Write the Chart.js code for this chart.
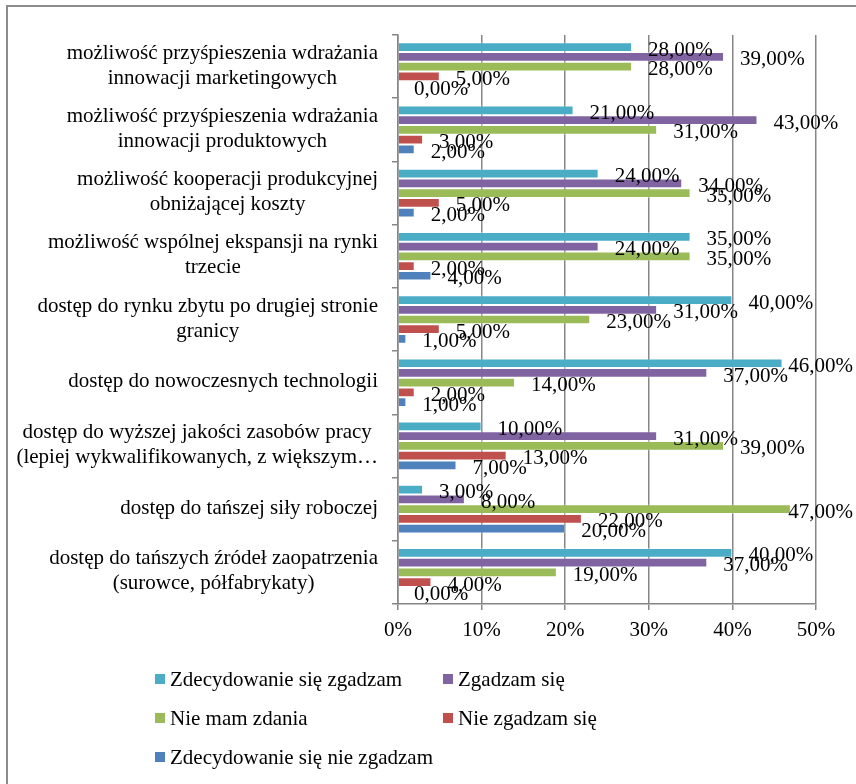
<!DOCTYPE html>
<html>
<head>
<meta charset="utf-8">
<script src="https://cdn.jsdelivr.net/npm/chart.js@4.4.1/dist/chart.umd.min.js"></script>
<style>
    body { margin: 0; background: #fff; }
    .wrap { position: relative; width: 856px; height: 784px; overflow: hidden; }
    .frame { position: absolute; left: 6px; top: 5px; width: 900px; height: 900px; border-left: 2px solid #8c8c8c; border-top: 2px solid #8c8c8c; }
    canvas { position: absolute; left: 0; top: 0; }
    .legend { position: absolute; left: 0; top: 0; font-family: "Liberation Serif", "Times New Roman", serif; font-size: 21px; color: #000; }
    .legend .item { position: absolute; white-space: nowrap; line-height: 22px; }
    .legend .box { display: inline-block; width: 10px; height: 10px; margin-right: 5px; vertical-align: 2px; }
</style>
</head>
<body>
<div class="wrap">
    <div class="frame"></div>
    <canvas id="survey_graph" width="856" height="784"></canvas>
    <div class="legend" id="legend"></div>
</div>
<script>
const categories = [
    ['możliwość przyśpieszenia wdrażania', 'innowacji marketingowych'],
    ['możliwość przyśpieszenia wdrażania', 'innowacji produktowych'],
    ['możliwość kooperacji produkcyjnej', 'obniżającej koszty'],
    ['możliwość wspólnej ekspansji na rynki', 'trzecie'],
    ['dostęp do rynku zbytu po drugiej stronie', 'granicy'],
    ['dostęp do nowoczesnych technologii'],
    ['dostęp do wyższej jakości zasobów pracy', '(lepiej wykwalifikowanych, z większym…'],
    ['dostęp do tańszej siły roboczej'],
    ['dostęp do tańszych źródeł zaopatrzenia', '(surowce, półfabrykaty)']
];
const seriesNames = ['Zdecydowanie się zgadzam', 'Zgadzam się', 'Nie mam zdania', 'Nie zgadzam się', 'Zdecydowanie się nie zgadzam'];
const stronglyAgree = [28, 21, 24, 35, 40, 46, 10, 3, 40];
const agree = [39, 43, 34, 24, 31, 37, 31, 8, 37];
const noOpinion = [28, 31, 35, 35, 23, 14, 39, 47, 19];
const disagree = [5, 3, 5, 2, 5, 2, 13, 22, 4];
const stronglyDisagree = [0, 2, 2, 4, 1, 1, 7, 20, 0];
const xTicks = [0, 10, 20, 30, 40, 50];

const colors = ['#4bacc6', '#8064a2', '#9bbb59', '#c0504d', '#4f81bd'];
const values = [stronglyAgree, agree, noOpinion, disagree, stronglyDisagree];
const FONT = '"Liberation Serif", "Times New Roman", serif';

// etykiety kategorii: linie wyśrodkowane, blok wyrównany do prawej
const categoryLabels = {
    id: 'categoryLabels',
    afterDraw(chart) {
        const ctx = chart.ctx;
        const y = chart.scales.y;
        ctx.save();
        ctx.font = '21px ' + FONT;
        ctx.fillStyle = '#000';
        ctx.textAlign = 'center';
        ctx.textBaseline = 'middle';
        categories.forEach(function (lines, i) {
            const w = Math.max.apply(null, lines.map(function (l) { return ctx.measureText(l).width; }));
            const right = 378;
            const cx = right - w / 2;
            const cy = y.getPixelForValue(i);
            const lh = 25;
            lines.forEach(function (l, k) {
                ctx.fillText(l, cx, cy + (k - (lines.length - 1) / 2) * lh - 1);
            });
        });
        ctx.restore();
    }
};

// etykiety danych
const valueLabels = {
    id: 'valueLabels',
    afterDatasetsDraw(chart) {
        const ctx = chart.ctx;
        ctx.save();
        ctx.font = '21px ' + FONT;
        ctx.fillStyle = '#000';
        ctx.textAlign = 'left';
        ctx.textBaseline = 'middle';
        chart.data.datasets.forEach(function (ds, di) {
            chart.getDatasetMeta(di).data.forEach(function (bar, i) {
                const txt = ds.data[i].toFixed(2).replace('.', ',') + '%';
                const w = ctx.measureText(txt).width;
                let x = bar.x + 16;
                if (x + w > 853) x = 853 - w;
                ctx.fillText(txt, x, bar.y + 3);
            });
        });
        ctx.restore();
    }
};

$legend = document.getElementById('legend');
const legendPos = [[155, 668], [443, 668], [155, 707], [443, 707], [155, 746]];
seriesNames.forEach(function (name, i) {
    const d = document.createElement('div');
    d.className = 'item';
    d.style.left = legendPos[i][0] + 'px';
    d.style.top = legendPos[i][1] + 'px';
    d.innerHTML = '<span class="box" style="background:' + colors[i] + '"></span>' + name;
    $legend.appendChild(d);
});

new Chart(document.getElementById('survey_graph'), {
    type: 'bar',
    data: {
        labels: categories.map(function (c) { return c.join(' '); }),
        datasets: seriesNames.map(function (name, i) {
            return {
                label: name,
                data: values[i],
                backgroundColor: colors[i],
                borderColor: 'rgba(255,255,255,0.35)',
                borderWidth: 1,
                categoryPercentage: 0.77,
                barPercentage: 1.0
            };
        })
    },
    options: {
        indexAxis: 'y',
        responsive: false,
        animation: false,
        layout: { padding: { top: 35, right: 40, bottom: 140, left: 0 } },
        plugins: {
            legend: { display: false },
            tooltip: { enabled: false }
        },
        scales: {
            x: {
                min: 0,
                max: 50,
                afterBuildTicks: function (scale) {
                    scale.ticks = xTicks.map(function (v) { return { value: v }; });
                },
                afterFit: function (scale) { scale.height = 40; },
                grid: {
                    color: '#868686',
                    lineWidth: 1.5,
                    tickLength: 6
                },
                border: { color: '#868686', width: 1.5 },
                ticks: {
                    color: '#000',
                    padding: 8,
                    font: { family: FONT, size: 21 },
                    callback: function (v) { return v + '%'; }
                }
            },
            y: {
                afterFit: function (scale) { scale.width = 398; },
                grid: {
                    offset: true,
                    drawOnChartArea: false,
                    color: '#868686',
                    lineWidth: 1.5,
                    tickLength: 6
                },
                border: { color: '#868686', width: 1.5 },
                ticks: { display: false }
            }
        }
    },
    plugins: [categoryLabels, valueLabels]
});
</script>
</body>
</html>
